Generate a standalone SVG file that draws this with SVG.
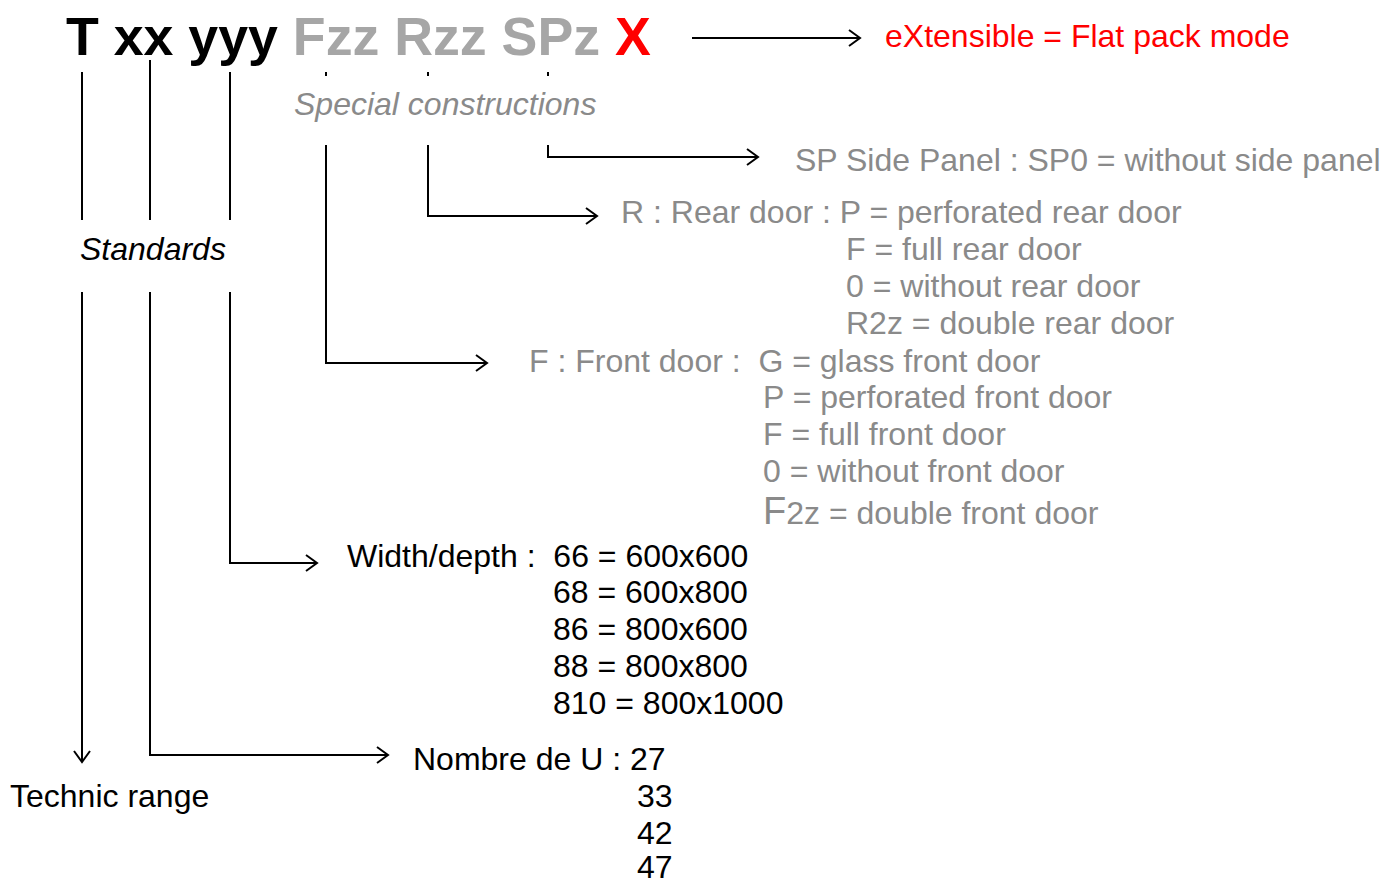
<svg xmlns="http://www.w3.org/2000/svg" width="1384" height="879" viewBox="0 0 1384 879">
<style>
text{font-family:"Liberation Sans",Arial,sans-serif;font-size:32px}
.t{font-size:53.7px;font-weight:bold}
.g{fill:#8a8a8a}
.k{fill:#000}
.r{fill:#ff0000}
.i{font-style:italic}
.c line,.c path{stroke:#000;stroke-width:2;fill:none}
</style>
<defs>
<marker id="a" markerWidth="14" markerHeight="18" refX="12" refY="9" orient="auto" markerUnits="userSpaceOnUse">
<path d="M1,1 L12,9 L1,17" fill="none" stroke="#000" stroke-width="2"/>
</marker>
</defs>
<g id="title">
<text x="66" y="55" class="t"><tspan fill="#000">T xx yyy </tspan><tspan fill="#a6a6a6">Fzz Rzz SPz </tspan><tspan fill="#ff0000">X</tspan></text>
</g>
<g class="c" id="connectors">
<line x1="692" y1="38" x2="860" y2="38" marker-end="url(#a)"/>
<line x1="326" y1="72" x2="326" y2="76"/>
<line x1="428" y1="72" x2="428" y2="76"/>
<line x1="548" y1="72" x2="548" y2="76"/>
<line x1="82" y1="72" x2="82" y2="220"/>
<line x1="150" y1="60" x2="150" y2="220"/>
<line x1="230" y1="72" x2="230" y2="220"/>
<line x1="82" y1="292" x2="82" y2="762" marker-end="url(#a)"/>
<path d="M150,292 V755 H388" marker-end="url(#a)"/>
<path d="M230,292 V563 H317" marker-end="url(#a)"/>
<path d="M326,145 V363 H487" marker-end="url(#a)"/>
<path d="M428,145 V216 H597" marker-end="url(#a)"/>
<path d="M548,145 V157 H758" marker-end="url(#a)"/>
</g>
<g id="extensible"><text x="885" y="47" class="r">eXtensible = Flat pack mode</text></g>
<g id="special"><text x="294" y="115" class="g i">Special constructions</text></g>
<g id="standards"><text x="80" y="260" class="k i">Standards</text></g>
<g id="sidepanel"><text x="795" y="171" class="g">SP Side Panel : SP0 = without side panel</text></g>
<g id="reardoor" class="g">
<text x="621" y="223">R : Rear door : P = perforated rear door</text>
<text x="846" y="260">F = full rear door</text>
<text x="846" y="297">0 = without rear door</text>
<text x="846" y="334">R2z = double rear door</text>
</g>
<g id="frontdoor" class="g">
<text x="529" y="372" xml:space="preserve">F : Front door :  G = glass front door</text>
<text x="763" y="408">P = perforated front door</text>
<text x="763" y="445">F = full front door</text>
<text x="763" y="482">0 = without front door</text>
<text x="763" y="524"><tspan font-size="38">F</tspan>2z = double front door</text>
</g>
<g id="widthdepth" class="k">
<text x="347" y="567" xml:space="preserve">Width/depth :  66 = 600x600</text>
<text x="553" y="603">68 = 600x800</text>
<text x="553" y="640">86 = 800x600</text>
<text x="553" y="677">88 = 800x800</text>
<text x="553" y="714">810 = 800x1000</text>
</g>
<g id="nombre" class="k">
<text x="413" y="770">Nombre de U : 27</text>
<text x="637" y="807">33</text>
<text x="637" y="844">42</text>
<text x="637" y="878">47</text>
</g>
<g id="technic"><text x="10" y="807" class="k">Technic range</text></g>
</svg>
